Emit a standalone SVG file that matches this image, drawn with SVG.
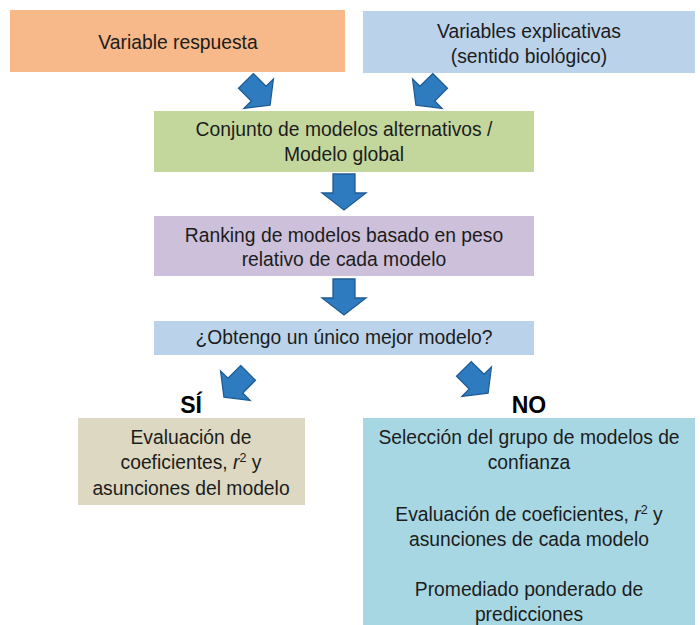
<svg xmlns="http://www.w3.org/2000/svg" xmlns:xlink="http://www.w3.org/1999/xlink" width="700" height="625" viewBox="0 0 700 625">
<defs>
<style>
text{font-family:"Liberation Sans",Arial,sans-serif;font-size:19.3px;fill:#1c1c1c;text-anchor:middle}
.lbl{font-size:23px;font-weight:bold;fill:#000}
.arr{fill:#2E7BC0;stroke:#1F5C93;stroke-width:1.3;stroke-linejoin:miter}
</style>
<path id="arrow" d="M-11,-18 H11 V1 H22 L0,18 L-22,1 H-11 Z"/>
</defs>
<rect width="700" height="625" fill="#fff"/>
<g id="resp"><rect x="10" y="10" width="335" height="62" fill="#F7B98A"/><text x="178" y="49">Variable respuesta</text></g>
<g id="expl"><rect x="363" y="11" width="332" height="62" fill="#BAD3EA"/><text x="529" y="38">Variables explicativas</text><text x="529" y="63">(sentido biológico)</text></g>
<g id="conj"><rect x="154" y="111" width="380" height="61" fill="#C3D79C"/><text x="344" y="136">Conjunto de modelos alternativos /</text><text x="344" y="161">Modelo global</text></g>
<g id="rank"><rect x="154" y="216" width="380" height="60" fill="#CDC0DA"/><text x="344" y="242">Ranking de modelos basado en peso</text><text x="344" y="266">relativo de cada modelo</text></g>
<g id="preg"><rect x="154" y="321" width="380" height="34" fill="#BAD3EA"/><text x="344" y="344">¿Obtengo un único mejor modelo?</text></g>
<g id="si"><text class="lbl" x="191" y="413">SÍ</text><rect x="78" y="418" width="227" height="87" fill="#DDD8C1"/><text x="191" y="444">Evaluación de</text><text x="191" y="469">coeficientes, <tspan font-style="italic">r</tspan><tspan font-size="12.5" dy="-7">2</tspan><tspan dy="7"> y</tspan></text><text x="191" y="495">asunciones del modelo</text></g>
<g id="no"><text class="lbl" x="529" y="413">NO</text><rect x="363" y="418" width="332" height="207" fill="#A7D7E3"/><text x="529" y="444">Selección del grupo de modelos de</text><text x="529" y="469">confianza</text><text x="529" y="521">Evaluación de coeficientes, <tspan font-style="italic">r</tspan><tspan font-size="12.5" dy="-7">2</tspan><tspan dy="7"> y</tspan></text><text x="529" y="546">asunciones de cada modelo</text><text x="529" y="596">Promediado ponderado de</text><text x="529" y="621">predicciones</text></g>
<g id="connectors">
<use xlink:href="#arrow" class="arr" transform="translate(258,93) rotate(-45) scale(0.95)"/>
<use xlink:href="#arrow" class="arr" transform="translate(428,93) rotate(45) scale(0.95)"/>
<use xlink:href="#arrow" class="arr" transform="translate(344,192)"/>
<use xlink:href="#arrow" class="arr" transform="translate(344,297)"/>
<use xlink:href="#arrow" class="arr" transform="translate(236,385) rotate(45) scale(0.95)"/>
<use xlink:href="#arrow" class="arr" transform="translate(476,381) rotate(-45) scale(0.95)"/>
</g>
</svg>
